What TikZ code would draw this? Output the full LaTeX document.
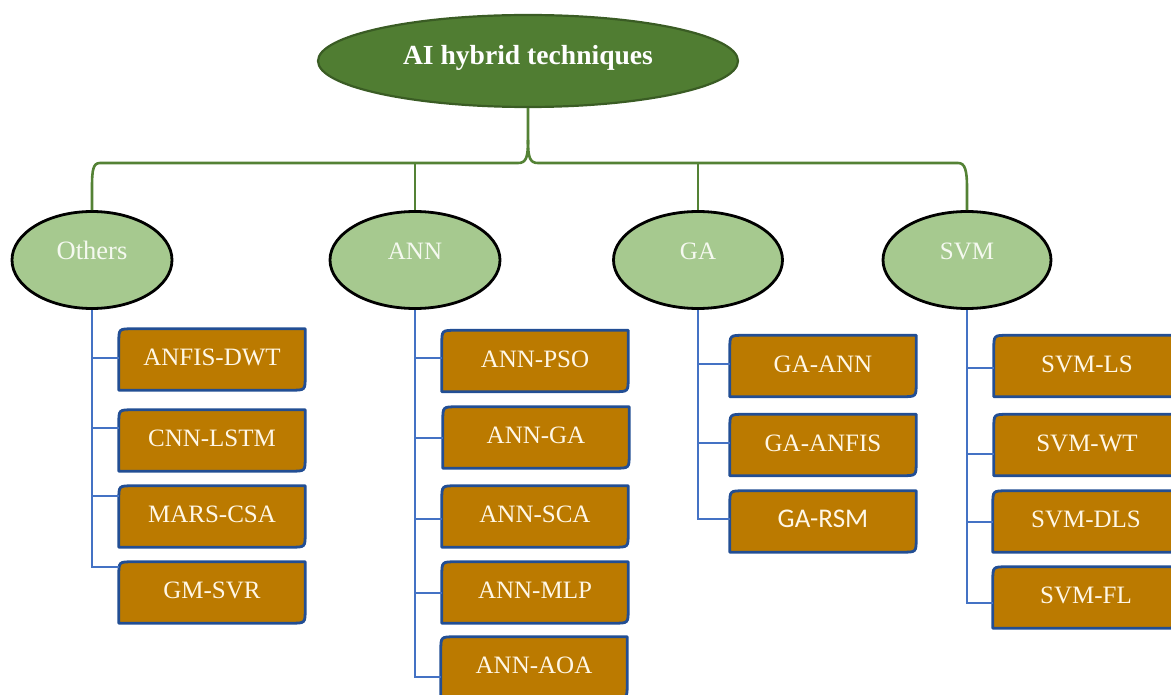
\documentclass[tikz,border=0pt]{standalone}
\usepackage{fontspec}
\setmainfont{Liberation Serif}
\newfontfamily\calibrifont{Carlito}
\usetikzlibrary{shapes.geometric,backgrounds}

\definecolor{rootfill}{RGB}{80,125,50}
\definecolor{rootedge}{RGB}{58,92,36}
\definecolor{trunk}{RGB}{84,130,53}
\definecolor{catfill}{RGB}{166,201,143}
\definecolor{cattext}{RGB}{245,249,240}
\definecolor{boxfill}{RGB}{187,122,0}
\definecolor{boxedge}{RGB}{34,78,148}
\definecolor{twig}{RGB}{68,114,196}
\definecolor{boxtext}{RGB}{255,247,230}

\tikzset{
  root/.style={ellipse, fill=rootfill, draw=rootedge, line width=2.2pt,
    minimum width=420pt, minimum height=92pt, inner sep=0pt, text=white,
    font=\bfseries\fontsize{27.6}{30}\selectfont, text height=14pt, text depth=6pt},
  cat/.style={ellipse, fill=catfill, draw=black, line width=2.8pt,
    minimum height=97pt, inner sep=0pt, text=cattext,
    font=\fontsize{25}{28}\selectfont, text height=10pt, text depth=10pt},
  tech/.style={minimum width=186pt, minimum height=61pt, inner sep=0pt,
    text=boxtext, font=\fontsize{25}{28}\selectfont,
    text height=14pt, text depth=1.5pt},
  techframe/.style={fill=boxfill, draw=boxedge, line width=2.8pt, line join=round},
  trunkline/.style={draw=trunk, line width=2.6pt},
  twigline/.style={draw=twig, line width=1.8pt},
}

% technique box: rounded top-left and bottom-right corners
\newcommand\techbox[4]{%
  \node[tech] (#1) at (#2,#3) {#4};
  \begin{pgfonlayer}{background}
    \path[techframe] ([yshift=-14pt]#1.north west) .. controls (#1.north west) ..
      ([xshift=14pt]#1.north west) -- (#1.north east) --
      ([yshift=14pt]#1.south east) .. controls (#1.south east) ..
      ([xshift=-14pt]#1.south east) -- (#1.south west) -- cycle;
  \end{pgfonlayer}}

\begin{document}
\begin{tikzpicture}[x=1pt,y=-1pt]
\useasboundingbox (0,0) rectangle (1171,695);

% root and categories
\node[root] (root) at (528,61) {AI hybrid techniques};
\node[cat, minimum width=160pt, font=\fontsize{26.5}{29}\selectfont] (oth) at (92,260) {Others};
\node[cat, minimum width=170pt] (ann) at (415,260) {ANN};
\node[cat, minimum width=169pt] (ga) at (698,260) {GA};
\node[cat, minimum width=168pt] (svm) at (967,260) {SVM};

% brace from the root to the categories
\coordinate (cusp) at (528,140);
\coordinate (bar) at (528,163);
\draw[trunkline] (root.south) -- (cusp) .. controls (528,158) and (526,163) .. (518,163)
  -- (100,163) .. controls (93,163) and (92,170) .. (92,188) -- (oth.north);
\draw[trunkline] (cusp) .. controls (528,158) and (530,163) .. (538,163)
  -- (958,163) .. controls (965,163) and (967,170) .. (967,188) -- (svm.north);
\draw[trunkline] (ann.north) -- (ann.north |- bar);
\draw[trunkline] (ga.north) -- (ga.north |- bar);

% Others
\techbox{o1}{212}{359.5}{ANFIS-DWT}
\techbox{o2}{212}{440.5}{CNN-LSTM}
\techbox{o3}{212}{516.5}{MARS-CSA}
\techbox{o4}{212}{592.5}{GM-SVR}
\coordinate (oc1) at ([yshift=1.5pt]o1.west);
\coordinate (oc2) at ([yshift=12.5pt]o2.west);
\coordinate (oc3) at ([yshift=20.5pt]o3.west);
\coordinate (oc4) at ([yshift=25.5pt]o4.west);
\draw[twigline] (oth.south) -- (oth.south |- oc4) -- (oc4);
\foreach \c in {oc1,oc2,oc3} \draw[twigline] (oth.south |- \c) -- (\c);

% ANN
\techbox{a1}{535}{361}{ANN-PSO}
\techbox{a2}{536}{437.5}{ANN-GA}
\techbox{a3}{535}{516.5}{ANN-SCA}
\techbox{a4}{535}{592.5}{ANN-MLP}
\techbox{a5}{534}{667.5}{ANN-AOA}
\coordinate (ac1) at ([yshift=3pt]a1.west);
\coordinate (ac2) at ([yshift=-0.5pt]a2.west);
\coordinate (ac3) at ([yshift=-2.5pt]a3.west);
\coordinate (ac4) at ([yshift=-0.5pt]a4.west);
\coordinate (ac5) at ([yshift=-9.5pt]a5.west);
\draw[twigline] (ann.south) -- (ann.south |- ac5) -- (ac5);
\foreach \c in {ac1,ac2,ac3,ac4} \draw[twigline] (ann.south |- \c) -- (\c);

% GA
\techbox{g1}{823}{366}{GA-ANN}
\techbox{g2}{823}{445}{GA-ANFIS}
\techbox{g3}{823}{521.5}{{\calibrifont\fontsize{27}{30}\selectfont GA-RSM}}
\coordinate (gc1) at ([yshift=2pt]g1.west);
\coordinate (gc2) at ([yshift=2pt]g2.west);
\coordinate (gc3) at ([yshift=2.5pt]g3.west);
\draw[twigline] (ga.south) -- (ga.south |- gc3) -- (gc3);
\foreach \c in {gc1,gc2} \draw[twigline] (ga.south |- \c) -- (\c);

% SVM
\techbox{s1}{1087}{366}{SVM-LS}
\techbox{s2}{1087}{445}{SVM-WT}
\techbox{s3}{1086}{521.5}{SVM-DLS}
\techbox{s4}{1086}{597.5}{SVM-FL}
\coordinate (sc1) at ([yshift=-2pt]s1.west);
\coordinate (sc2) at ([yshift=-9pt]s2.west);
\coordinate (sc3) at ([yshift=-0.5pt]s3.west);
\coordinate (sc4) at ([yshift=-5.5pt]s4.west);
\draw[twigline] (svm.south) -- (svm.south |- sc4) -- (sc4);
\foreach \c in {sc1,sc2,sc3} \draw[twigline] (svm.south |- \c) -- (\c);
\end{tikzpicture}
\end{document}
